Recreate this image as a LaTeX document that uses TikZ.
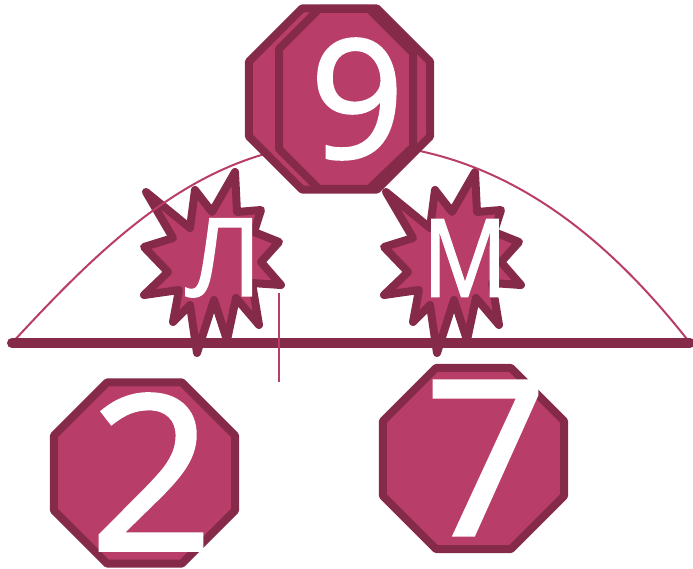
\documentclass[tikz,border=0pt]{standalone}
\usepackage{fontspec}
\setmainfont{Open Sans}
\newfontfamily\glyphfont{Open Sans}[FakeBold=1.5]
\usepackage{graphicx}
\usepackage{tikz}
\usetikzlibrary{positioning,shapes.geometric}
\definecolor{roseFill}{HTML}{B93D69}
\definecolor{roseInk}{HTML}{862A4A}
\tikzset{burst/.pic={
  \draw[line width=8pt,line join=round,draw=roseInk,fill=roseFill]
    (-64,-73) -- (-20,-37) -- (-15,-75) -- (2,-53) -- (25,-93) -- (27,-53)
    -- (51,-55) -- (44,-33) -- (69,-23) -- (51,-3) -- (71,20) -- (42,18)
    -- (49,60) -- (26,33) -- (17,75) -- (4,35) -- (-13,88) -- (-20,40)
    -- (-37,57) -- (-31,25) -- (-66,30) -- (-42,7) -- (-66,-18) -- (-37,-27) -- cycle;
}}

\begin{document}
\begin{tikzpicture}[x=1pt,y=-1pt,
  octa/.style={regular polygon,regular polygon sides=8,minimum size=196pt,inner sep=0pt,
    draw=roseInk,fill=roseFill,line width=8pt,line join=round},
  glyph/.style={text=white,inner sep=0pt}]
\useasboundingbox (0,0) rectangle (693,569);
\pic at (210,265) {burst};
\pic at (450,265) {burst};
\node[glyph,font=\glyphfont\fontsize{108}{108}\selectfont] (el) at (224,258) {Л};
\node[glyph,font=\glyphfont\fontsize{108}{108}\selectfont] (em) at (465,258) {\scalebox{0.87}[1]{М}};
\coordinate (axl) at (12,343);
\coordinate (axr) at (690,343);
\coordinate (peak) at (343,143);
\draw[roseFill,line width=2pt] (axl) .. controls (107,240) and (206,143) .. (peak)
  .. controls (480,143) and (590,215) .. (axr);
\draw[roseInk,line width=10pt,line cap=round] (axl) -- (axr);
\coordinate (tickup) at (279,293);
\coordinate (tickdown) at (279,382);
\draw[roseFill,line width=2pt] (tickup) -- (tickdown);
\node[octa] (nineback) at (339.5,99) {};
\draw[draw=roseInk,fill=roseFill,line width=8pt,line join=round]
  (319,9) -- (369,9) -- (413,53) -- (413,147) -- (369,189) -- (319,189) -- (279,149) -- (279,49) -- cycle;
\node[glyph,font=\glyphfont\fontsize{165}{165}\selectfont] (nine) at (357,99) {9};
\node[octa] (twobox) at (144.5,473) {};
\node[glyph,font=\glyphfont\fontsize{216}{216}\selectfont] (two) at (151.5,472) {2};
\node[octa] (sevenbox) at (473.5,458.5) {};
\node[glyph,font=\glyphfont\fontsize{216}{216}\selectfont] (seven) at (486,458) {7};
\end{tikzpicture}
\end{document}
